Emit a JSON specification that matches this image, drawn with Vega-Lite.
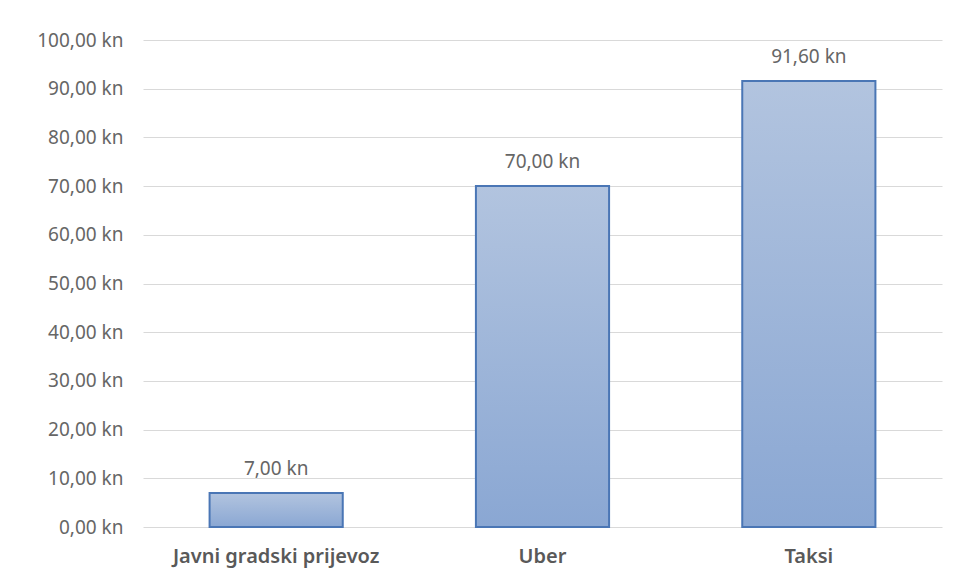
{
  "$schema": "https://vega.github.io/schema/vega-lite/v6.json",
  "width": 799,
  "height": 487,
  "autosize": {"type": "none"},
  "padding": {"left": 143, "top": 40, "right": 15, "bottom": 54},
  "background": "white",
  "config": {"view": {"stroke": null}, "font": "Noto Sans"},
  "data": {"values": [
    {"kategorija": "Javni gradski prijevoz", "cijena": 7.0},
    {"kategorija": "Uber", "cijena": 70.0},
    {"kategorija": "Taksi", "cijena": 91.6}
  ]},
  "encoding": {
    "x": {"field": "kategorija", "type": "nominal", "sort": null,
      "scale": {"paddingInner": 0.5, "paddingOuter": 0.25},
      "axis": {"title": null, "labelAngle": 0, "ticks": false, "domain": false,
        "labelFont": "Noto Sans", "labelFontSize": 20, "labelFontWeight": 600,
        "labelColor": "#595959", "labelPadding": 19, "labelLimit": 0}},
    "y": {"field": "cijena", "type": "quantitative",
      "scale": {"domain": [0, 100]},
      "axis": {"title": null, "values": [0,10,20,30,40,50,60,70,80,90,100],
        "labelExpr": "replace(format(datum.value, '.2f'), '.', ',') + ' kn'",
        "labelOverlap": false, "labelLimit": 0,
        "ticks": false, "domain": false, "gridColor": "#d9d9d9", "gridWidth": 1,
        "labelFont": "Noto Sans", "labelFontSize": 19, "labelColor": "#666666", "labelPadding": 20}}
  },
  "layer": [
    {"mark": {"type": "bar", "strokeWidth": 2, "stroke": "#4a76b5",
      "color": {"gradient": "linear", "x1": 0, "y1": 0, "x2": 0, "y2": 1,
        "stops": [{"offset": 0, "color": "#b2c4df"}, {"offset": 1, "color": "#8aa7d3"}]}}},
    {"mark": {"type": "text", "baseline": "bottom", "dy": -14, "fontSize": 19, "color": "#666666", "font": "Noto Sans"},
      "encoding": {"text": {"field": "label", "type": "nominal"}},
      "transform": [{"calculate": "replace(format(datum.cijena, '.2f'), '.', ',') + ' kn'", "as": "label"}]}
  ]
}
